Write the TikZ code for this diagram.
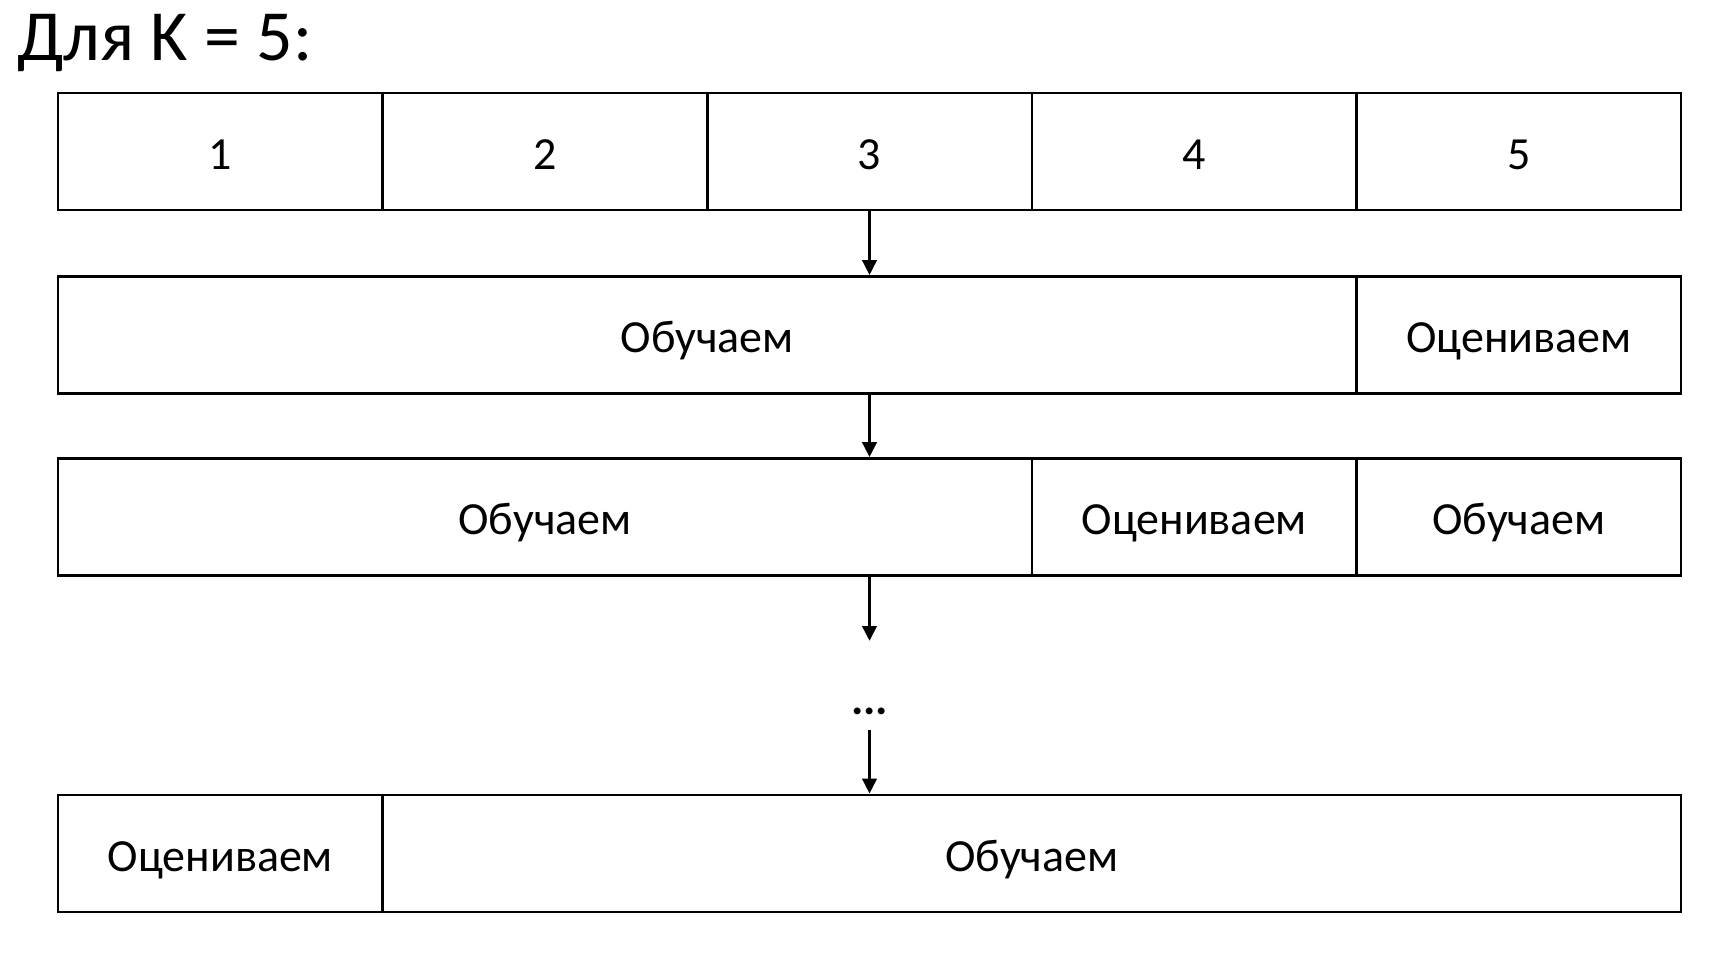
\documentclass[tikz,border=0pt]{standalone}
\usepackage{fontspec}
\setmainfont{Carlito}
\usetikzlibrary{arrows.meta}

\tikzset{
	cell/.style={shape=rectangle,draw=black,line width=2.6pt,inner sep=0pt,
		minimum height=117pt,text height=44pt,text depth=9pt,
		font=\fontsize{46}{55}\selectfont},
	one/.style={cell,minimum width=324.6pt},
	four/.style={cell,minimum width=1298.4pt},
	three/.style={cell,minimum width=973.8pt},
	step arrow/.style={line width=3.6pt,-{Triangle[width=14pt,length=15pt]}}
}

\begin{document}
\begin{tikzpicture}[x=1pt,y=-1pt]
	\useasboundingbox (0,0) rectangle (1712,972);

	\node[anchor=base west,inner sep=0pt,font=\fontsize{72}{86}\selectfont] (title) at (17, 60) {Для K = 5:};

	% folds
	\node[one] (f1) at (220.3, 151.5) {1};
	\node[one] (f2) at (544.9, 151.5) {2};
	\node[one] (f3) at (869.5, 151.5) {3};
	\node[one] (f4) at (1194.1, 151.5) {4};
	\node[one] (f5) at (1518.7, 151.5) {5};

	% first split
	\node[four] (a1) at (707.2, 335) {Обучаем};
	\node[one]  (a2) at (1518.7, 335) {Оцениваем};

	% second split
	\node[three] (b1) at (544.9, 517) {Обучаем};
	\node[one]   (b2) at (1194.1, 517) {Оцениваем};
	\node[one]   (b3) at (1518.7, 517) {Обучаем};

	% last split
	\node[one]  (c1) at (220.3, 853.5) {Оцениваем};
	\node[four] (c2) at (1031.8, 853.5) {Обучаем};

	\node[inner sep=0pt,font=\fontsize{46}{55}\selectfont\bfseries] (dots) at (869.5, 711) {...};
	\coordinate (gap) at (869.5, 641);
	\coordinate (top) at (869.5, 730);

	\draw[step arrow] (f3.south) -- (f3.south |- a1.north);
	\draw[step arrow] (f3.south |- a1.south) -- (f3.south |- b1.north);
	\draw[step arrow] (f3.south |- b1.south) -- (gap);
	\draw[step arrow] (top) -- (top |- c2.north);

\end{tikzpicture}
\end{document}
